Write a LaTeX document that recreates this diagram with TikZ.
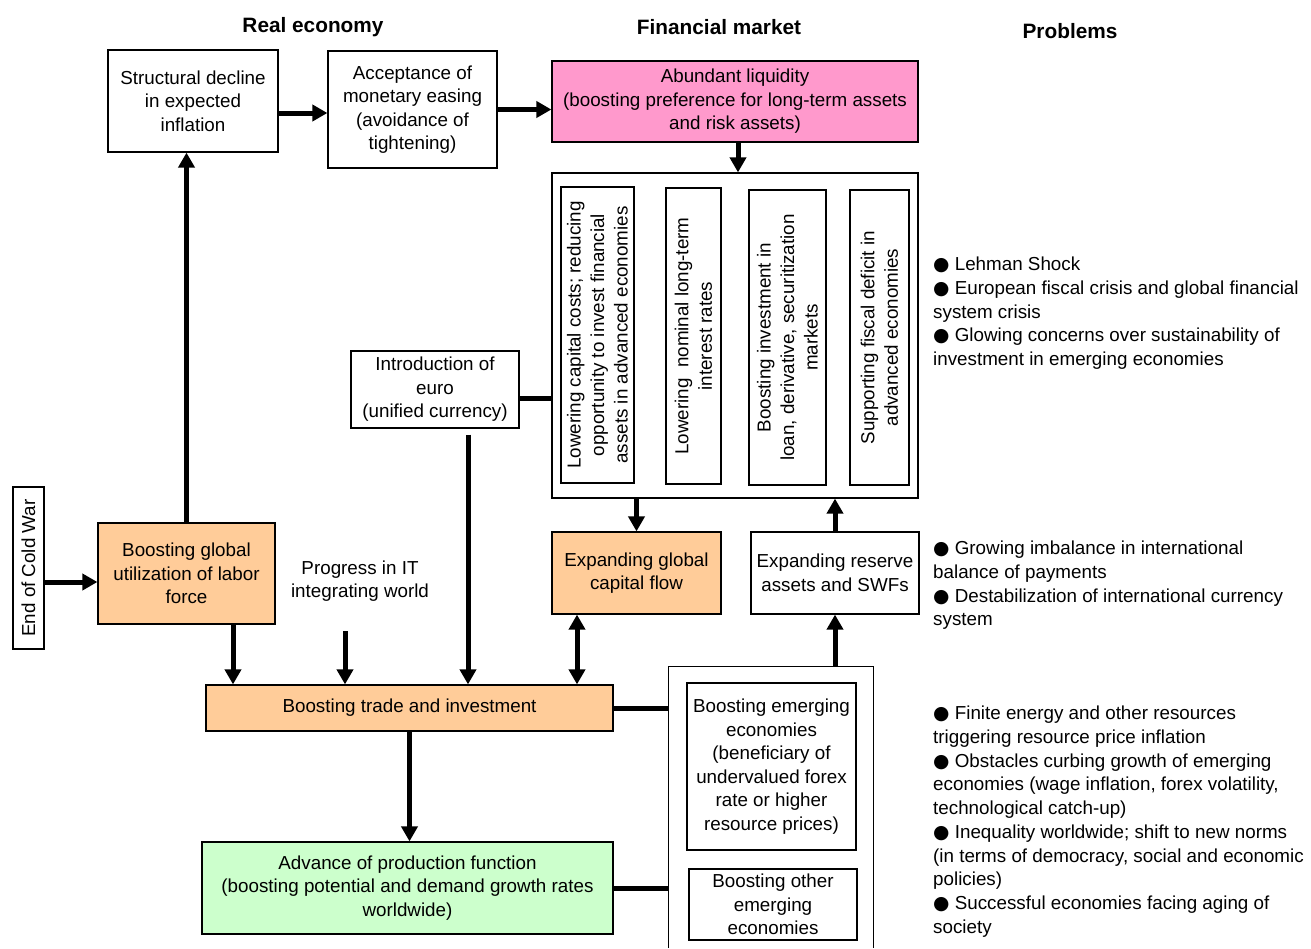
\documentclass[tikz,border=0pt]{standalone}
\usepackage{fontspec}
\setmainfont{Liberation Sans}
\newfontfamily\symfont{DejaVu Sans}
\usetikzlibrary{arrows.meta,positioning}
\definecolor{pinkbox}{HTML}{FF99CC}
\definecolor{orangebox}{HTML}{FFCC99}
\definecolor{greenbox}{HTML}{CCFFCC}
\newcommand{\blob}{{\symfont ●}}

\begin{document}
\begin{tikzpicture}[x=1pt,y=-1pt,
  font=\fontsize{18.8}{23.5}\selectfont,
  box/.style={draw,line width=1.2pt,align=center,inner sep=2pt},
  rbox/.style={box,rotate=90},
  arr/.style={line width=5pt,-{Triangle[length=15pt,width=16pt]}},
  darr/.style={line width=5pt,{Triangle[length=15pt,width=16pt]}-{Triangle[length=15pt,width=16pt]}},
  link/.style={line width=5pt},
  head/.style={font=\fontsize{20.8}{25}\selectfont\bfseries},
  plist/.style={anchor=north west,align=left,inner sep=0pt,font=\fontsize{18.8}{23.7}\selectfont}]
 \fill[white] (0,0) rectangle (1311,948);
 \useasboundingbox (0,0) rectangle (1311,948);
 \node[head] (hreal) at (313,27) {Real economy};
 \node[head] (hfin) at (719,27) {Financial market};
 \node[head] (hprob) at (1070,31) {Problems};
 \node[box,minimum width=170pt,minimum height=102pt] (struct) at (193,101) {Structural decline\\in expected\\inflation};
 \node[box,minimum width=169pt,minimum height=117pt] (accept) at (412.5,109.5) {Acceptance of\\monetary easing\\(avoidance of\\tightening)};
 \node[box,fill=pinkbox,minimum width=366pt,minimum height=81pt] (liquid) at (735,101.5) {Abundant liquidity\\(boosting preference for long-term assets\\and risk assets)};
 \node[box,minimum width=366pt,minimum height=325pt] (chan) at (735,335.5) {};
 \node[rbox,minimum width=296pt,minimum height=73pt] (chana) at (597.5,335) {Lowering capital costs; reducing\\opportunity to invest financial\\assets in advanced economies};
 \node[rbox,minimum width=296pt,minimum height=55pt] (chanb) at (693.5,336) {Lowering\ \ nominal long-term\\interest rates};
 \node[rbox,minimum width=295pt,minimum height=77pt] (chanc) at (787.5,337.5) {Boosting investment in\\loan, derivative, securitization\\markets};
 \node[rbox,minimum width=295pt,minimum height=59pt] (chand) at (879.5,337.5) {Supporting fiscal deficit in\\advanced economies};
 \node[box,minimum width=168pt,minimum height=77pt] (euro) at (435,389.5) {Introduction of\\euro\\(unified currency)};
 \node[rbox,minimum width=162pt,minimum height=31pt] (cold) at (28.5,568) {End of Cold War};
 \node[box,fill=orangebox,minimum width=177pt,minimum height=101pt] (labor) at (186.5,573.5) {Boosting global\\utilization of labor\\force};
 \node[align=center] (it) at (360,581) {Progress in IT\\integrating world};
 \coordinate (itfoot) at (345,631);
 \node[box,fill=orangebox,minimum width=169pt,minimum height=82pt] (capflow) at (636.5,573) {Expanding global\\capital flow};
 \node[box,minimum width=168pt,minimum height=82pt] (reserve) at (835,573) {Expanding reserve\\assets and SWFs};
 \node[box,fill=orangebox,minimum width=407pt,minimum height=46pt] (trade) at (409.5,708) {Boosting trade and investment};
 \node[box,fill=greenbox,minimum width=411pt,minimum height=92pt] (prod) at (407.5,888) {Advance of production function\\(boosting potential and demand growth rates\\worldwide)};
 \node[minimum width=204pt,minimum height=281pt,inner sep=0pt] (emg) at (771,807.5) {};
 \draw[line width=1.2pt] (emg.south west) |- (emg.north east) -- (emg.south east);
 \node[box,minimum width=169pt,minimum height=167pt] (emgup) at (771.5,766.5) {Boosting emerging\\economies\\(beneficiary of\\undervalued forex\\rate or higher\\resource prices)};
 \node[box,minimum width=168pt,minimum height=71pt] (emglow) at (773,904.5) {Boosting other\\emerging\\economies};
 \node[plist] (prob1) at (933,257) {\blob{} Lehman Shock\\\blob{} European fiscal crisis and global financial\\system crisis\\\blob{} Glowing concerns over sustainability of\\investment in emerging economies};
 \node[plist] (prob2) at (933,541) {\blob{} Growing imbalance in international\\balance of payments\\\blob{} Destabilization of international currency\\system};
 \node[plist] (prob3) at (933,706) {\blob{} Finite energy and other resources\\triggering resource price inflation\\\blob{} Obstacles curbing growth of emerging\\economies (wage inflation, forex volatility,\\technological catch-up)\\\blob{} Inequality worldwide; shift to new norms\\(in terms of democracy, social and economic\\policies)\\\blob{} Successful economies facing aging of\\society};
 \draw[arr] ([yshift=-12pt]struct.east) -- ([yshift=-12pt]struct.east -| accept.west);
 \draw[arr] (accept.east) -- (accept.east -| liquid.west);
 \draw[arr] ([xshift=3pt]liquid.south) -- ([xshift=3pt]chan.north);
 \draw[link] ([yshift=-9pt]euro.east) -- ([yshift=-9pt]euro.east -| chan.west);
 \draw[arr] ([xshift=33pt,yshift=-6pt]euro.south) -- ([xshift=33pt]euro.south |- trade.north);
 \draw[arr] ([yshift=-14pt]cold.south) -- ([yshift=-14pt]cold.south -| labor.west);
 \draw[arr] (labor.north) -- (labor.north |- struct.south);
 \draw[arr] ([xshift=46.5pt]labor.south) -- ([xshift=46.5pt]labor.south |- trade.north);
 \draw[arr] (itfoot) -- (itfoot |- trade.north);
 \draw[arr] (capflow.north |- chan.south) -- (capflow.north);
 \draw[darr] ([xshift=-59.5pt]capflow.south) -- ([xshift=-59.5pt]capflow.south |- trade.north);
 \draw[link] (trade.east) -- (trade.east -| emg.west);
 \draw[arr] (trade.south) -- (trade.south |- prod.north);
 \draw[link] (prod.east) -- (prod.east -| emg.west);
 \draw[arr] (reserve.south |- emg.north) -- (reserve.south);
 \draw[arr] (reserve.north) -- (reserve.north |- chan.south);
\end{tikzpicture}
\end{document}
